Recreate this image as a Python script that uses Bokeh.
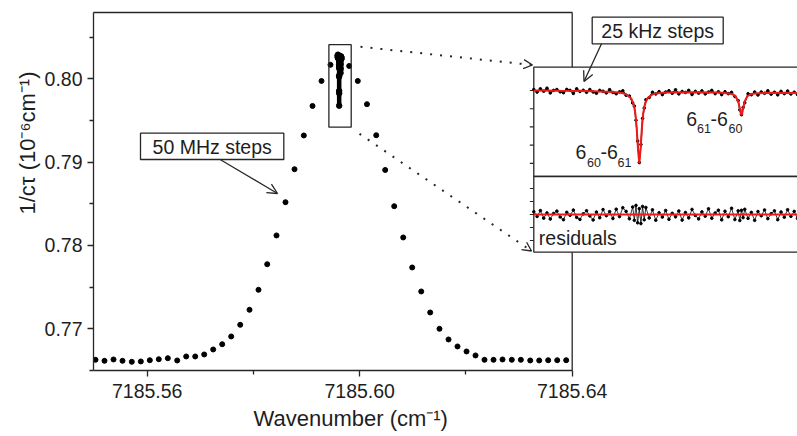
import math
from bokeh.plotting import figure
from bokeh.models import (Range1d, LinearAxis, FixedTicker, PrintfTickFormatter, Label,
                          BoxAnnotation, Arrow, OpenHead, Title)
from bokeh.embed import file_html
from bokeh.resources import INLINE

# ---------------- data ----------------
# 50 MHz step scan
wavenumber = [7185.55027, 7185.55196, 7185.55366, 7185.55535, 7185.55710, 7185.55880, 7185.56049,
              7185.56218, 7185.56388, 7185.56565, 7185.56734, 7185.56904, 7185.57073, 7185.57242,
              7185.57412, 7185.57581, 7185.57751, 7185.57926, 7185.58095, 7185.58259, 7185.58434,
              7185.58603, 7185.58773, 7185.58948, 7185.59112, 7185.59281, 7185.59450,
              7185.59802, 7185.59964, 7185.60137, 7185.60311, 7185.60480, 7185.60650, 7185.60819,
              7185.60988, 7185.61158, 7185.61327, 7185.61502, 7185.61672, 7185.61841, 7185.62011,
              7185.62180, 7185.62349, 7185.62519, 7185.62688, 7185.62863, 7185.63033, 7185.63210,
              7185.63379, 7185.63548, 7185.63718, 7185.63887]
inv_ctau = [0.76628, 0.76616, 0.76632, 0.76616, 0.76604, 0.76608, 0.76623, 0.76635, 0.76647,
            0.76620, 0.76668, 0.76668, 0.76692, 0.76752, 0.76815, 0.76908, 0.77048, 0.77228,
            0.77468, 0.77775, 0.78120, 0.78519, 0.78915, 0.79320, 0.79674, 0.79974, 0.80168,
            0.80154, 0.79974, 0.79695, 0.79323, 0.78906, 0.78471, 0.78096, 0.77736, 0.77448,
            0.77196, 0.77000, 0.76872, 0.76788, 0.76728, 0.76680, 0.76628, 0.76628, 0.76632,
            0.76628, 0.76628, 0.76620, 0.76620, 0.76623, 0.76623, 0.76623]

# 25 kHz step scan (detuning in MHz from the scan start)
scan_detuning_mhz = [0, 0.25, 0.5, 0.75, 1.0, 1.25, 1.5, 1.75, 2.0, 2.25, 2.5, 2.75, 3.0, 3.25,
                     3.5, 3.75, 4.0, 4.25, 4.5, 4.75, 5.0, 5.25, 5.5, 5.75, 6.0, 6.25, 6.5, 6.75,
                     7.0, 7.25, 7.5, 7.625, 7.75, 7.875, 8.0, 8.125, 8.25, 8.375, 8.5, 8.75, 9.0,
                     9.25, 9.5, 9.75, 10.0, 10.25, 10.5, 10.75, 11.0, 11.25, 11.5, 11.75, 12.0,
                     12.25, 12.5, 12.75, 13.0, 13.25, 13.5, 13.75, 14.0, 14.25, 14.5, 14.75, 15.0,
                     15.25, 15.5, 15.625, 15.75, 15.875, 16.0, 16.25, 16.5, 16.75, 17.0, 17.25,
                     17.5, 17.75, 18.0, 18.25, 18.5, 18.75, 19.0, 19.25, 19.5, 19.75, 20.0]
scan_inv_ctau = [0.80278, 0.80257, 0.80284, 0.80264, 0.80289, 0.80250, 0.80271, 0.80278, 0.80259, 0.80252,
                 0.80279, 0.80271, 0.80246, 0.80284, 0.80262, 0.80272, 0.80255, 0.80278, 0.80258, 0.80247,
                 0.80271, 0.80264, 0.80250, 0.80277, 0.80254, 0.80243, 0.80259, 0.80268, 0.80231, 0.80225,
                 0.80167, 0.80142, 0.80025, 0.79854, 0.79677, 0.79826, 0.80041, 0.80125, 0.80194, 0.80212,
                 0.80256, 0.80241, 0.80261, 0.80236, 0.80258, 0.80268, 0.80247, 0.80276, 0.80242, 0.80262,
                 0.80254, 0.80271, 0.80237, 0.80263, 0.80248, 0.80267, 0.80242, 0.80258, 0.80271, 0.80244,
                 0.80260, 0.80236, 0.80260, 0.80244, 0.80255, 0.80221, 0.80187, 0.80111, 0.80071, 0.80130,
                 0.80169, 0.80243, 0.80235, 0.80258, 0.80233, 0.80258, 0.80247, 0.80268, 0.80240, 0.80256,
                 0.80234, 0.80263, 0.80244, 0.80266, 0.80241, 0.80256, 0.80236]
scan_residual_1e4 = [2.1, -1.5, 3.0, -2.8, 1.2, -3.5, 0.8, 2.6, -1.9, -4.0,
                     1.7, -0.6, 3.4, -2.2, -3.8, 0.5, 2.9, -1.1, -4.2, 1.9,
                     -2.5, 3.8, -0.9, 2.2, -3.1, 4.1, -1.6, 5.2, 2.4, -3.3,
                     5.8, -4.5, 7.0, -6.4, 4.5, -7.0, 6.2, -4.1, 5.4, -2.7,
                     3.6, -4.4, 1.3, -2.0, 3.1, -3.7, 0.9, -1.8, 2.7, -4.3,
                     1.5, -2.6, 3.9, -0.7, -3.4, 2.0, -1.3, 4.4, -2.9, 1.1,
                     3.3, -4.1, 2.5, -1.7, 4.8, -3.9, 2.8, -4.6, 3.2, -2.4,
                     4.0, -3.0, 1.6, -4.5, 2.3, -1.0, 3.5, -3.2, 0.6, 2.8,
                     -4.0, 1.9, -2.1, 3.7, -1.4, 2.4, -3.0]
fit_detuning_mhz = [0, 2, 4, 6, 6.5, 7, 7.4, 7.6, 7.7, 7.8, 7.9, 8.0, 8.1, 8.2, 8.3, 8.4, 8.6, 9,
                    9.5, 10, 12, 14, 14.5, 15, 15.3, 15.5, 15.6, 15.7, 15.75, 15.8, 15.9, 16.0,
                    16.2, 16.5, 17, 18, 20]
fit_inv_ctau = [0.80270, 0.80267, 0.80265, 0.80258, 0.80253, 0.80240, 0.80204, 0.80145, 0.80081,
                0.79967, 0.79790, 0.79672, 0.79790, 0.79967, 0.80081, 0.80145, 0.80204, 0.80238,
                0.80250, 0.80254, 0.80256, 0.80253, 0.80250, 0.80242, 0.80224, 0.80181, 0.80135,
                0.80079, 0.80067, 0.80079, 0.80135, 0.80181, 0.80224, 0.80241, 0.80248, 0.80251,
                0.80250]
SCAN_START_CM = 7185.59587
MHZ_TO_CM = 3.33564e-5

x_ticks = [7185.56, 7185.60, 7185.64]
x_minor = [7185.58, 7185.62]
y_ticks = [0.77, 0.78, 0.79, 0.80]
y_minor = [0.765, 0.775, 0.785, 0.795, 0.805]
inset_ticks = [0.8027, 0.8012, 0.7997, 0.7982, 0.7967]
resid_ticks = [0.002, 0.001, 0.0, -0.001, -0.002]
zoom_box = dict(left=7185.5942, right=7185.5984, bottom=0.7942, top=0.8041)

# ---------------- layout helpers (page pixel -> data) ----------------
W, H = 797, 436
FL, FR, FT, FB = 93, 797, 12, 370
def X(px): return 7185.56 + (px - 146.7) / 5312.5
def Y(py): return 0.80 - (py - 78.3) / 8333.3
IX = lambda px: (px - 533.3) / 13.185
IU = lambda py: 0.8027 - (py - 90) / 12150.0
IR = lambda py: -(py - 214) / 13000.0

INK = "#262626"
TXT = "#1e1e1e"
RED = "#ee1a1a"
FONT = "Liberation Sans"

p = figure(width=W, height=H, output_backend="svg", toolbar_location=None,
           x_range=Range1d(X(FL), X(FR)), y_range=Range1d(Y(FB), Y(FT)),
           x_axis_type=None, y_axis_type=None,
           min_border_left=FL, min_border_right=0, min_border_top=FT,
           min_border_bottom=H - FB)
p.extra_x_ranges = {"ix": Range1d(IX(FL), IX(FR))}
p.extra_y_ranges = {"iu": Range1d(IU(FB), IU(FT)), "ir": Range1d(IR(FB), IR(FT))}
p.outline_line_color = None
p.xgrid.visible = False
p.ygrid.visible = False
p.background_fill_color = "white"
p.border_fill_color = "white"

def style_axis(ax, standoff):
    ax.axis_line_color = INK
    ax.axis_line_width = 1.3
    ax.major_tick_line_color = INK
    ax.major_tick_line_width = 1.3
    ax.minor_tick_line_color = INK
    ax.minor_tick_line_width = 1.3
    ax.major_tick_in = 0
    ax.major_tick_out = 6
    ax.minor_tick_in = 0
    ax.minor_tick_out = 4
    ax.major_label_text_font = FONT
    ax.major_label_text_font_size = "19.5px"
    ax.major_label_text_color = TXT
    ax.major_label_standoff = standoff

xaxis = LinearAxis(bounds=(X(FL), 7185.64), ticker=FixedTicker(ticks=x_ticks, minor_ticks=x_minor),
                   formatter=PrintfTickFormatter(format="%.2f"))
style_axis(xaxis, 7)
p.add_layout(xaxis, "below")
yaxis = LinearAxis(ticker=FixedTicker(ticks=y_ticks, minor_ticks=y_minor),
                   formatter=PrintfTickFormatter(format="%.2f"))
style_axis(yaxis, 5)
p.add_layout(yaxis, "left")
top = LinearAxis(bounds=(X(FL), 7185.64), ticker=FixedTicker(ticks=[]))
top.axis_line_color = INK
top.axis_line_width = 1.3
top.major_tick_out = 0
top.minor_tick_out = 0
top.major_label_standoff = 0
top.major_label_text_font_size = "0px"
p.add_layout(top, "above")

# axis titles
xt = Title(text="Wavenumber (cm\u207b\u00b9)", align="left", offset=253 - FL,
           text_font=FONT, text_font_size="22px", text_font_style="normal",
           text_color=TXT, standoff=6)
p.add_layout(xt, "below")
yt = Title(text="1/c\u03c4 (10\u207b\u2076cm\u207b\u00b9)", align="left", offset=FB - 214,
           text_font=FONT, text_font_size="22px", text_font_style="normal",
           text_color=TXT, standoff=4)
p.add_layout(yt, "left")

# right frame border of the main plot
p.segment(x0=[7185.64], y0=[Y(FB)], x1=[7185.64], y1=[Y(FT)], line_color=INK, line_width=1.3)

# main data
p.scatter(wavenumber, inv_ctau, size=5, color="black")
scan_cm = [SCAN_START_CM + d * MHZ_TO_CM for d in scan_detuning_mhz]
p.line(scan_cm, scan_inv_ctau, line_width=4.5, color="black")
p.scatter(scan_cm, scan_inv_ctau, size=5.5, color="black")

# inset panels
p.quad(left=[X(533.3)], right=[X(830)], top=[Y(66.7)], bottom=[Y(176)],
       fill_color="white", line_color=INK, line_width=1.3)
p.quad(left=[X(533.3)], right=[X(830)], top=[Y(176)], bottom=[Y(251.7)],
       fill_color="white", line_color=INK, line_width=1.3)

p.line(scan_detuning_mhz, scan_inv_ctau, x_range_name="ix", y_range_name="iu",
       line_width=1.3, color="black")
p.scatter(scan_detuning_mhz, scan_inv_ctau, x_range_name="ix", y_range_name="iu",
          size=2.6, color="black")
p.line(fit_detuning_mhz, fit_inv_ctau, x_range_name="ix", y_range_name="iu",
       line_width=2, color=RED)

scan_residual = [r * 1e-4 for r in scan_residual_1e4]
p.line(scan_detuning_mhz, scan_residual, x_range_name="ix", y_range_name="ir",
       line_width=0.8, color="black")
p.scatter(scan_detuning_mhz, scan_residual, x_range_name="ix", y_range_name="ir",
          size=2.6, color="black")
p.line([fit_detuning_mhz[0], fit_detuning_mhz[-1]], [0, 0], x_range_name="ix", y_range_name="ir",
       line_width=2, color=RED)

p.segment(x0=[-0.3] * len(inset_ticks), x1=[0] * len(inset_ticks), y0=inset_ticks, y1=inset_ticks,
          x_range_name="ix", y_range_name="iu", line_color=INK, line_width=1.2)
p.segment(x0=[-0.3] * len(resid_ticks), x1=[0] * len(resid_ticks), y0=resid_ticks, y1=resid_ticks,
          x_range_name="ix", y_range_name="ir", line_color=INK, line_width=1.2)

# ---------------- annotations ----------------
p.add_layout(BoxAnnotation(fill_color=None, line_color=INK, line_alpha=1, line_width=1.3, **zoom_box))

def dotted_arrow(x0, y0, x1, y1):
    p.add_layout(Arrow(end=OpenHead(size=9, line_width=1.3, line_color=INK),
                       x_start=X(x0), y_start=Y(y0), x_end=X(x1), y_end=Y(y1),
                       line_color=INK, line_width=2, line_dash="2 8"))
dotted_arrow(360, 46.3, 532, 64.5)
dotted_arrow(359, 133.3, 531, 250.5)

def text(px, base, s, size=19.5, align="left"):
    # place by the text's alphabetic baseline (page pixels), drawn with a middle baseline
    p.add_layout(Label(x=X(px), y=Y(base - 0.3465 * size), text=s, text_font=FONT,
                       text_font_size=f"{size}px", text_color=TXT, text_align=align,
                       text_baseline="middle"))

def boxed(l, r, t, b, cx, base, s, ax0, ay0, ax1, ay1):
    p.add_layout(BoxAnnotation(left=X(l), right=X(r), top=Y(t), bottom=Y(b), fill_color="white",
                               fill_alpha=1, line_color=INK, line_alpha=1, line_width=1.3))
    text(cx, base, s, align="center")
    p.add_layout(Arrow(end=OpenHead(size=10, line_width=1.3, line_color=INK),
                       x_start=X(ax0), y_start=Y(ay0), x_end=X(ax1), y_end=Y(ay1),
                       line_color=INK, line_width=1.3))

boxed(140, 283.3, 132.7, 159, 211.7, 153.5, "50 MHz steps", 220, 159.3, 277, 193)
boxed(591.7, 722.7, 16.7, 43.3, 657.2, 37.6, "25 kHz steps", 601, 43.3, 583.5, 81)

text(538.3, 244, "residuals")
# transition labels
text(575, 158.3, "6")
text(586.5, 166, "60", size=12.5)
text(600, 158.3, "-6")
text(617, 166, "61", size=12.5)
text(685.7, 125, "6")
text(696.5, 132.7, "61", size=12.5)
text(710, 125, "-6")
text(728, 132.7, "60", size=12.5)

open("out.html", "w").write(file_html(p, INLINE))
